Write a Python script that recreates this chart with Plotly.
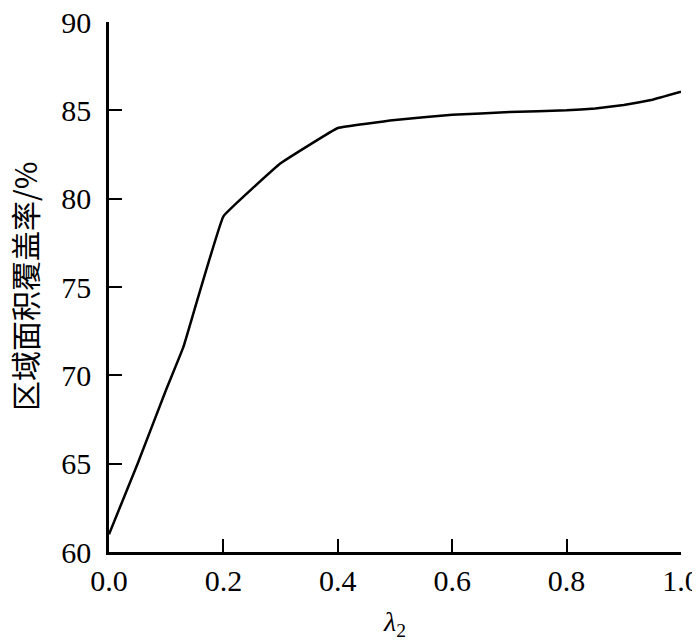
import plotly.graph_objects as go

lam2 = [0.0, 0.05, 0.1, 0.13, 0.2, 0.3, 0.4, 0.5, 0.6, 0.7, 0.8, 0.85, 0.9, 0.95, 1.0]
coverage = [61.0, 65.0, 69.2, 71.6, 79.0, 82.0, 84.0, 84.45, 84.75, 84.9, 85.0, 85.1, 85.3, 85.6, 86.05]

x_ticks = [0.0, 0.2, 0.4, 0.6, 0.8, 1.0]
x_tick_labels = ["0.0", "0.2", "0.4", "0.6", "0.8", "1.0"]
y_ticks = [60, 65, 70, 75, 80, 85, 90]
y_title = "区域面积覆盖率/%"

fig = go.Figure()
fig.add_trace(go.Scatter(x=lam2, y=coverage, mode="lines",
                         line=dict(color="black", width=2.5, shape="spline", smoothing=0.2),
                         showlegend=False, cliponaxis=False))

font_serif = "Liberation Serif"
# page body adds an 8px offset, so margins are shifted by 8px
fig.update_layout(
    width=700, height=642,
    margin=dict(l=101, r=27, t=14, b=98),
    paper_bgcolor="white", plot_bgcolor="white",
    font=dict(family=font_serif, size=30, color="black"),
    xaxis=dict(range=[0, 1.0], tickvals=x_ticks, ticktext=x_tick_labels,
               ticks="inside", ticklen=13, tickwidth=2, tickcolor="black",
               showline=True, linecolor="black", linewidth=2.5,
               showgrid=False, zeroline=False, automargin=False,
               ticklabeloverflow="allow",
               tickfont=dict(family=font_serif, size=30),
               title=dict(text="<i>λ</i><sub>2</sub>", font=dict(family=font_serif, size=28), standoff=16)),
    yaxis=dict(range=[60, 90], tickvals=y_ticks,
               ticks="inside", ticklen=13, tickwidth=2, tickcolor="black",
               showline=True, linecolor="black", linewidth=2.5,
               showgrid=False, zeroline=False, automargin=False,
               ticklabeloverflow="allow", ticklabelstandoff=9,
               tickfont=dict(family=font_serif, size=30)),
)
fig.add_annotation(text=y_title, xref="paper", yref="paper", x=0, y=0.5,
                   xanchor="center", yanchor="middle", xshift=-85, textangle=-90,
                   showarrow=False, borderpad=0,
                   font=dict(family="Noto Sans CJK SC", size=30, color="black"))
fig.write_html("out.html")
